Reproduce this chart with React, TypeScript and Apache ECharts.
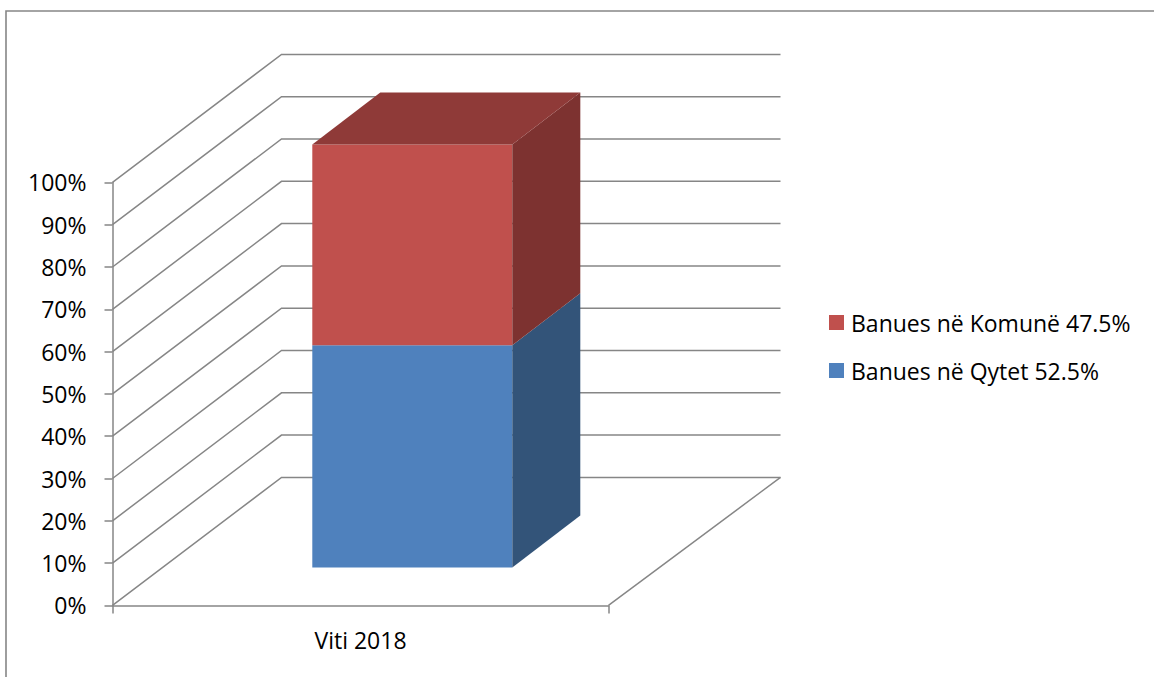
import React, { useEffect, useRef } from "react";
import * as echarts from "echarts";

const categories = ["Viti 2018"];
const seriesNames = ["Banues në Qytet 52.5%", "Banues në Komunë 47.5%"];
const urbanValues = [52.5];
const communeValues = [47.5];
const axisTicks = [0, 10, 20, 30, 40, 50, 60, 70, 80, 90, 100];
const legendOrder = ["Banues në Komunë 47.5%", "Banues në Qytet 52.5%"];

const FONT = "'Open Sans', Carlito, Calibri, sans-serif";
const FONT_SIZE = 23;
const GREY = "#868686";
const WALL_DX = 169;
const WALL_DY = -128;
const WALL_RIGHT_EXTRA = 3;
const BAR_FRONT_DX = 51.8;
const BAR_FRONT_DY = -38;
const BAR_DX = 68;
const BAR_DY = -52;
const BAR_WIDTH = 200;

const wallItem = (_: any, api: any) => {
  const tick = api.value(1);
  const p = api.coord([api.value(0), tick]);
  const band = api.size([1, 0])[0];
  const x0 = p[0] - band / 2;
  const xb = x0 + WALL_DX;
  const yb = p[1] + WALL_DY;
  const xr = x0 + band + WALL_DX + WALL_RIGHT_EXTRA;
  const lineStyle = { stroke: GREY, lineWidth: 1.5, fill: "none" };
  const children: any[] = [
    { type: "polyline", shape: { points: [[x0, p[1]], [xb, yb], [xr, yb]] }, style: lineStyle },
  ];
  if (tick === 0) {
    children.push({
      type: "line",
      shape: { x1: x0 + band, y1: p[1], x2: xr, y2: yb },
      style: lineStyle,
    });
  }
  return { type: "group", children };
};

const barItem = (front: string, side: string, top: string | null) => (_: any, api: any) => {
  const cat = api.value(0);
  const a = api.coord([cat, api.value(1)]);
  const b = api.coord([cat, api.value(2)]);
  const l = a[0] - BAR_WIDTH / 2 + BAR_FRONT_DX;
  const r = l + BAR_WIDTH;
  const yb = a[1] + BAR_FRONT_DY;
  const yt = b[1] + BAR_FRONT_DY;
  const poly = (pts: number[][], fill: string) => ({
    type: "polygon",
    shape: { points: pts },
    style: { fill, stroke: "none" },
  });
  const children: any[] = [
    poly([[l, yb], [r, yb], [r, yt], [l, yt]], front),
    poly([[r, yb], [r + BAR_DX, yb + BAR_DY], [r + BAR_DX, yt + BAR_DY], [r, yt]], side),
  ];
  if (top) {
    children.push(poly([[l, yt], [r, yt], [r + BAR_DX, yt + BAR_DY], [l + BAR_DX, yt + BAR_DY]], top));
  }
  return { type: "group", children };
};

export default function App() {
  const ref = useRef<HTMLDivElement>(null);
  useEffect(() => {
    document.body.style.margin = "0";
    const chart = echarts.init(ref.current!, undefined, { renderer: "svg" });
    chart.setOption({
      animation: false,
      backgroundColor: "#ffffff",
      tooltip: { show: false },
      grid: { left: 112.5, top: 182.4, width: 496, height: 423, containLabel: false },
      legend: {
        data: legendOrder,
        orient: "vertical",
        left: 829,
        top: 311,
        padding: 0,
        itemWidth: 15,
        itemHeight: 15,
        itemGap: 25,
        icon: "rect",
        selectedMode: false,
        textStyle: { fontFamily: FONT, fontSize: FONT_SIZE, color: "#000000", padding: [0, 0, 0, 2] },
      },
      xAxis: {
        type: "category",
        data: categories,
        axisLine: { lineStyle: { color: GREY, width: 1.5 } },
        axisTick: { show: true, length: 8, lineStyle: { color: GREY, width: 1.5 } },
        axisLabel: { fontFamily: FONT, fontSize: FONT_SIZE, color: "#000000", margin: 23 },
        splitLine: { show: false },
      },
      yAxis: {
        type: "value",
        min: 0,
        max: 100,
        interval: 10,
        axisLine: { show: true, lineStyle: { color: GREY, width: 1.5 } },
        axisTick: { show: true, length: 8, lineStyle: { color: GREY, width: 1.5 } },
        axisLabel: {
          fontFamily: FONT,
          fontSize: FONT_SIZE,
          color: "#000000",
          margin: 26,
          padding: [2, 0, 0, 0],
          formatter: "{value}%",
        },
        splitLine: { show: false },
      },
      graphic: [
        {
          type: "polyline",
          silent: true,
          shape: { points: [[6, 677], [6, 11], [1154, 11]] },
          style: { stroke: GREY, lineWidth: 1.6, fill: "none" },
        },
      ],
      series: [
        {
          type: "custom",
          silent: true,
          z: 1,
          renderItem: wallItem,
          encode: { x: 0, y: 1 },
          data: axisTicks.map((t) => [0, t]),
        },
        {
          type: "custom",
          name: seriesNames[0],
          silent: true,
          z: 3,
          itemStyle: { color: "#4F81BD" },
          renderItem: barItem("#4F81BD", "#335479", null),
          encode: { x: 0, y: [1, 2] },
          data: urbanValues.map((v, i) => [i, 0, v]),
        },
        {
          type: "custom",
          name: seriesNames[1],
          silent: true,
          z: 3,
          itemStyle: { color: "#C0504D" },
          renderItem: barItem("#C0504D", "#7D3230", "#8F3A38"),
          encode: { x: 0, y: [1, 2] },
          data: communeValues.map((v, i) => [i, urbanValues[i], urbanValues[i] + v]),
        },
      ],
    });
    return () => chart.dispose();
  }, []);
  return <div ref={ref} style={{ position: "fixed", left: 0, top: 0, width: 1154, height: 677 }} />;
}
